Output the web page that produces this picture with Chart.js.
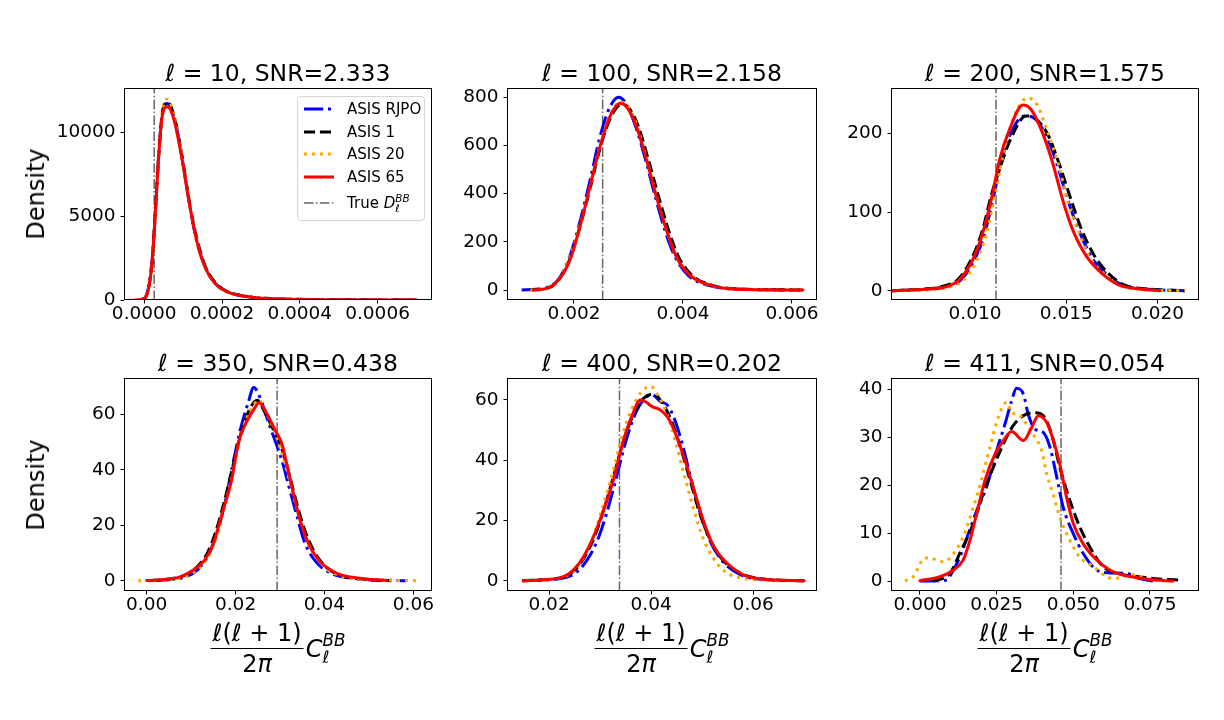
<!DOCTYPE html>
<html>
<head>
<meta charset="utf-8">
<script src="https://cdn.jsdelivr.net/npm/chart.js@4.4.0/dist/chart.umd.min.js"></script>
<style>
  body { margin: 0; background: #fff; }
  #fig { position: relative; width: 1224px; height: 720px; overflow: hidden;
         font-family: 'DejaVu Sans', sans-serif; color: #000; }
  canvas { position: absolute; }
  .title { position: absolute; font-size: 23.5px; line-height: 1; white-space: nowrap;
           transform: translate(-50%, -50%); z-index: 3; }
  .ylab { position: absolute; font-size: 24px; line-height: 1; white-space: nowrap;
          transform: translate(-50%, -50%) rotate(-90deg); }
  .xlab { position: absolute; display: flex; align-items: center; font-size: 24px;
          white-space: nowrap; transform: translateX(-50%); }
  .frac { display: flex; flex-direction: column; align-items: center; }
  .num { line-height: 30px; border-bottom: 1.3px solid #000; padding: 0 2px; }
  .den { line-height: 30px; }
  .ss { display: inline-flex; flex-direction: column; font-size: 0.7em; line-height: 1;
        vertical-align: middle; font-style: italic; }
  #legend { position: absolute; left: 297px; top: 96px; width: 128px; height: 125px;
            box-sizing: border-box; border: 1px solid #d6d6d6; border-radius: 4px;
            background: rgba(255,255,255,0.85); font-size: 15px; z-index: 5; }
  .lrow { position: absolute; left: 5px; height: 20px; display: flex; align-items: center;
          white-space: nowrap; }
  .lrow svg { margin-right: 12px; }
</style>
</head>
<body>
<div id="fig"></div>
<script>
// ---- data ----
const ells = [10, 100, 200, 350, 400, 411];
const snrs = ['2.333', '2.158', '1.575', '0.438', '0.202', '0.054'];
const trueValues = [0.0000257, 0.002526, 0.01115, 0.02935, 0.0338, 0.046];

const seriesNames = ['ASIS RJPO', 'ASIS 1', 'ASIS 20', 'ASIS 65'];

// l = 10
const l10Rjpo = [[-0.00001,0],[0.000003,150],[0.00002,2300],[0.000029,5300],[0.000037,8600],[0.000046,11000],[0.000058,11700],[0.000067,11550],[0.00008,10600],[0.000097,8500],[0.000118,5500],[0.000135,3500],[0.000157,1950],[0.000183,980],[0.000215,480],[0.00027,190],[0.00033,80],[0.00046,25],[0.0007,0]];
const l10Asis1 = [[-0.000012,0],[0.000002,130],[0.00002,2200],[0.000028,5100],[0.000037,8500],[0.000046,11000],[0.000059,11750],[0.000068,11550],[0.000081,10550],[0.000098,8450],[0.000119,5450],[0.000137,3500],[0.000158,1950],[0.000184,1000],[0.000214,500],[0.000268,200],[0.00033,85],[0.00046,25],[0.0007,0]];
const l10Asis20 = [[-0.000015,0],[0.000002,120],[0.00002,2150],[0.000028,5000],[0.000037,8500],[0.000046,11100],[0.000059,11950],[0.000068,11650],[0.000081,10500],[0.000098,8400],[0.000119,5450],[0.000136,3450],[0.000157,1900],[0.000183,950],[0.000214,470],[0.00027,190],[0.00033,80],[0.00046,20],[0.0007,0]];
const l10Asis65 = [[-0.000024,0],[0.0000018,100],[0.000019,1980],[0.0000275,4760],[0.000036,8140],[0.0000447,10710],[0.0000576,11500],[0.000066,11400],[0.0000789,10520],[0.0000961,8530],[0.0001175,5550],[0.0001347,3570],[0.000156,1980],[0.0001818,990],[0.000212,500],[0.000263,200],[0.000323,80],[0.000452,20],[0.0007,0]];

// l = 100
const l100Rjpo = [[0.00104,0],[0.0013,3],[0.0015,10],[0.0017,40],[0.0019,125],[0.0021,275],[0.0023,460],[0.00247,630],[0.00265,755],[0.00282,800],[0.00295,775],[0.00313,680],[0.00332,535],[0.0035,380],[0.00368,240],[0.00386,135],[0.0041,60],[0.00445,20],[0.005,4],[0.0058,1],[0.0062,0]];
const l100Asis1 = [[0.0012,0],[0.0015,6],[0.0017,36],[0.0019,115],[0.0021,255],[0.0023,425],[0.00248,590],[0.00267,715],[0.00287,770],[0.003,758],[0.00318,680],[0.00336,545],[0.00355,390],[0.00373,252],[0.00391,142],[0.00415,64],[0.0045,22],[0.005,4],[0.0062,0]];
const l100Asis20 = [[0.0012,0],[0.0015,6],[0.0017,38],[0.0019,120],[0.0021,260],[0.0023,430],[0.00247,595],[0.00265,720],[0.00285,780],[0.00298,765],[0.00316,680],[0.00334,540],[0.00352,385],[0.0037,246],[0.00388,136],[0.00413,62],[0.0045,20],[0.005,3],[0.0062,0]];
const l100Asis65 = [[0.001255,0],[0.0015,7],[0.001713,41],[0.001927,125],[0.00211,263],[0.002293,429],[0.002476,595],[0.002659,720],[0.002842,775],[0.002964,761],[0.003147,678],[0.00333,540],[0.003513,387],[0.003696,249],[0.003879,138],[0.004123,62],[0.004489,21],[0.004977,3],[0.0062,0]];

// l = 200
const l200Rjpo = [[0.0055,0],[0.0073,2],[0.0084,5],[0.0092,13],[0.0099,36],[0.0105,70],[0.011,118],[0.0114,160],[0.0119,197],[0.0127,222],[0.0132,220],[0.0139,197],[0.0145,160],[0.0151,114],[0.0157,76],[0.0164,42],[0.0172,21],[0.0181,7],[0.0195,2],[0.0215,0]];
const l200Asis1 = [[0.0055,0],[0.0072,2],[0.0083,6],[0.0091,15],[0.0098,40],[0.0104,76],[0.0109,122],[0.0114,158],[0.0119,190],[0.0128,222],[0.0133,219],[0.014,198],[0.0146,162],[0.0152,120],[0.0158,80],[0.0165,46],[0.0173,22],[0.0182,7],[0.0196,2],[0.0215,0]];
const l200Asis20 = [[0.006,0],[0.0075,1],[0.0085,4],[0.0093,12],[0.01,34],[0.0106,70],[0.0111,122],[0.0115,168],[0.012,213],[0.0129,245],[0.0134,236],[0.014,200],[0.0146,158],[0.0151,112],[0.0157,74],[0.0163,42],[0.0171,21],[0.018,6],[0.0195,1],[0.0215,0]];
const l200Asis65 = [[0.00547,0],[0.00731,2],[0.00841,5],[0.00914,14],[0.00987,39],[0.01042,73],[0.01097,124],[0.01134,166],[0.01188,204],[0.01262,236],[0.01308,230],[0.01371,200],[0.01426,162],[0.01481,115],[0.01536,77],[0.0161,44],[0.017,21],[0.0179,7],[0.0191,2],[0.02013,0]];

// l = 350
const l350Rjpo = [[0.002,0],[0.006,0.5],[0.009,1.5],[0.0115,4],[0.014,9.5],[0.0162,19],[0.018,31],[0.0195,43],[0.021,54],[0.0228,64],[0.0241,69.7],[0.0255,66],[0.0272,58],[0.029,50],[0.0305,43],[0.032,34],[0.0337,24],[0.0355,14],[0.038,7],[0.0418,2.5],[0.047,0.8],[0.0585,0]];
const l350Asis1 = [[0.0005,0],[0.005,0.6],[0.008,1.6],[0.011,4.5],[0.0135,9.5],[0.0155,17.5],[0.0177,30],[0.0195,42],[0.0212,53],[0.0232,62],[0.0249,65.1],[0.0265,61],[0.0285,54.5],[0.0302,48.5],[0.0318,40],[0.0335,29.5],[0.0352,20],[0.0372,12],[0.04,5.5],[0.0435,2],[0.049,0.5],[0.055,0]];
const l350Asis20 = [[-0.0019,0],[0.004,0.3],[0.008,1.2],[0.0115,4],[0.014,9],[0.016,17],[0.0182,31],[0.0198,42],[0.0215,54],[0.0235,62],[0.0253,65],[0.0268,61],[0.0287,54],[0.0302,47],[0.0318,38],[0.0334,28],[0.0352,18.5],[0.0372,11],[0.04,5],[0.0435,1.8],[0.05,0.5],[0.0607,0]];
const l350Asis65 = [[0.0,0.1],[0.0045,0.5],[0.0075,1.4],[0.0105,3.9],[0.0131,7.5],[0.015,13.5],[0.0172,25.5],[0.0191,36.3],[0.0206,49.5],[0.0221,56.1],[0.024,61.5],[0.0253,64.2],[0.027,60.4],[0.0289,54.3],[0.0304,49.5],[0.0315,42.3],[0.033,31.5],[0.0345,21.9],[0.0364,13.5],[0.039,6.9],[0.0428,2.7],[0.0475,1.0],[0.054,0.1]];

// l = 400
const l400Rjpo = [[0.0147,0],[0.02,0.3],[0.0235,1.2],[0.0255,3],[0.0275,7],[0.0295,13.5],[0.0312,22],[0.033,33],[0.035,46],[0.0368,55],[0.0385,60],[0.0402,61.7],[0.0418,59.5],[0.0432,58.3],[0.0445,54],[0.046,46],[0.0478,34],[0.0497,22],[0.0516,13],[0.054,6.5],[0.0575,2],[0.062,0.4],[0.07,0]];
const l400Asis1 = [[0.0148,0],[0.02,0.5],[0.023,1.4],[0.025,3.5],[0.027,8],[0.029,15],[0.0308,24],[0.0326,34.5],[0.0345,46],[0.0365,55],[0.0385,60.5],[0.0405,62],[0.0422,59],[0.044,53],[0.0458,44],[0.0477,33],[0.0496,22],[0.0516,13.5],[0.054,7],[0.0575,2.5],[0.062,0.6],[0.07,0]];
const l400Asis20 = [[0.0155,0],[0.02,0.4],[0.023,1.4],[0.025,3.6],[0.027,8.5],[0.0288,15.5],[0.0306,25],[0.0325,36],[0.0343,48],[0.0362,57],[0.038,62.5],[0.0399,64.5],[0.0415,61],[0.0432,55],[0.0448,46],[0.0465,35],[0.0483,24],[0.0502,14],[0.0522,7.5],[0.0545,3],[0.058,0.8],[0.065,0]];
const l400Asis65 = [[0.01495,0],[0.01955,0.4],[0.0228,1.3],[0.0248,3.6],[0.02675,8],[0.0287,14.6],[0.0307,23.5],[0.0326,33.4],[0.0346,46.7],[0.0363,55],[0.0379,60],[0.0389,59.4],[0.0402,57.8],[0.0418,56.7],[0.0432,54.4],[0.0445,50],[0.0464,41.2],[0.0484,30.1],[0.0504,19.1],[0.0523,11.3],[0.0549,5.8],[0.0582,1.9],[0.0621,0.5],[0.07,0]];

// l = 411
const l411Rjpo = [[0,0],[0.0033,0],[0.0087,0.2],[0.0103,1.6],[0.013,5],[0.0158,9.9],[0.0185,14.7],[0.0217,19.6],[0.025,27.2],[0.0277,32.7],[0.0299,37.6],[0.0315,40.2],[0.0337,39],[0.0353,34.8],[0.0375,31.7],[0.0402,31],[0.0424,27.9],[0.0446,21.7],[0.0467,15.4],[0.05,9.9],[0.0532,5.8],[0.0576,2.3],[0.0619,1.7],[0.0674,1.6],[0.071,0.6],[0.076,0]];
const l411Asis1 = [[0.0043,0],[0.0098,1.6],[0.013,5.8],[0.0174,12],[0.0206,18.2],[0.0239,23.7],[0.0272,28.6],[0.0304,32.4],[0.0337,34.5],[0.0375,35.1],[0.0402,34.5],[0.0429,30.7],[0.0456,23.7],[0.0489,16.8],[0.0521,11.3],[0.0554,7.1],[0.0597,3],[0.065,1.5],[0.07,1],[0.078,0.4],[0.0858,0.2]];
const l411Asis20 = [[-0.0049,0],[-0.0022,0.9],[0.0016,4.8],[0.0038,4.7],[0.0076,4],[0.0109,5.7],[0.0141,9.2],[0.0174,15.4],[0.02,21],[0.0228,27.9],[0.0255,34.1],[0.0283,37.3],[0.0299,35.1],[0.032,34.8],[0.0348,32.7],[0.0375,30],[0.0397,27.2],[0.0413,22.4],[0.0434,18.2],[0.0456,13.3],[0.0489,8.5],[0.0521,5],[0.0565,3],[0.0609,0.9],[0.0631,0.5],[0.0695,1.3],[0.074,0.5],[0.078,0]];
const l411Asis65 = [[0,0.07],[0.0065,0.9],[0.0109,2.3],[0.0141,4.4],[0.0163,8.5],[0.0185,14.1],[0.0212,21],[0.0245,26.5],[0.0272,29.3],[0.0299,31.2],[0.0337,29.3],[0.0364,32],[0.0386,34.5],[0.0413,33.1],[0.0435,29.3],[0.0456,24.4],[0.0478,17.5],[0.05,12],[0.0532,7.8],[0.0576,4.4],[0.0619,2.3],[0.066,1.3],[0.07,0.8],[0.075,0.3],[0.0826,0]];

// tick labels per panel
const xTickLabels = [
  ['0.0000', '0.0002', '0.0004', '0.0006'],
  ['0.002', '0.004', '0.006'],
  ['0.010', '0.015', '0.020'],
  ['0.00', '0.02', '0.04', '0.06'],
  ['0.02', '0.04', '0.06'],
  ['0.000', '0.025', '0.050', '0.075']
];
const yTickLabels = [
  ['0', '5000', '10000'],
  ['0', '200', '400', '600', '800'],
  ['0', '100', '200'],
  ['0', '20', '40', '60'],
  ['0', '20', '40', '60'],
  ['0', '10', '20', '30', '40']
];
// axis limits [min, max]
const xLimits = [[-0.000052, 0.00074], [0.000771, 0.006459], [0.0054, 0.02227],
                 [-0.0051, 0.0642], [0.01176, 0.0725], [-0.00945, 0.091]];
const yLimits = [[0, 12620], [-41.5, 838.6], [-11.8, 257.6],
                 [-3.7, 73.1], [-3.4, 67.3], [-2.08, 42.35]];

const panelSeries = [
  [l10Rjpo, l10Asis1, l10Asis20, l10Asis65],
  [l100Rjpo, l100Asis1, l100Asis20, l100Asis65],
  [l200Rjpo, l200Asis1, l200Asis20, l200Asis65],
  [l350Rjpo, l350Asis1, l350Asis20, l350Asis65],
  [l400Rjpo, l400Asis1, l400Asis20, l400Asis65],
  [l411Rjpo, l411Asis1, l411Asis20, l411Asis65]
];

// ---- styles & layout ----
const seriesColors = ['#0000ff', '#000000', '#ffa500', '#ff0000'];
const seriesDash = [[19.2, 4.8, 3, 4.8], [11.1, 4.8], [3, 4.95], []];
const trueColor = '#666666';
const trueDash = [9.6, 2.4, 1.5, 2.4];

const colBoxes = [[124, 432], [507, 817], [891, 1199]];
const rowBoxes = [[88, 300], [378, 591]];
const PAD_L = 90, PAD_T = 30, PAD_R = 30, PAD_B = 35;

Chart.defaults.font.family = "'DejaVu Sans', sans-serif";
Chart.defaults.font.size = 18.5;
Chart.defaults.color = '#000';

const framePlugin = {
  id: 'frame',
  afterDraw(chart) {
    const { ctx, chartArea: a } = chart;
    ctx.save();
    ctx.strokeStyle = '#000';
    ctx.lineWidth = 1;
    ctx.strokeRect(a.left + 0.5, a.top + 0.5, a.right - a.left - 1, a.bottom - a.top - 1);
    ctx.restore();
  }
};

const fig = document.getElementById('fig');

function stacked(sup, sub) {
  return `<span class="ss"><span>${sup}</span><span>${sub}</span></span>`;
}

panelSeries.forEach((series, p) => {
  const col = p % 3, row = Math.floor(p / 3);
  const [bl, br] = colBoxes[col];
  const [bt, bb] = rowBoxes[row];
  const w = br - bl + PAD_L + PAD_R;
  const h = bb - bt + PAD_T + PAD_B;

  const canvas = document.createElement('canvas');
  canvas.width = w; canvas.height = h;
  canvas.style.left = (bl - PAD_L) + 'px';
  canvas.style.top = (bt - PAD_T) + 'px';
  canvas.style.width = w + 'px';
  canvas.style.height = h + 'px';
  fig.appendChild(canvas);

  const xt = xTickLabels[p].map(Number);
  const yt = yTickLabels[p].map(Number);
  const [ymin, ymax] = yLimits[p];

  const datasets = series.map((pts, k) => ({
    label: seriesNames[k],
    data: pts.map(([x, y]) => ({ x, y })),
    showLine: true,
    borderColor: seriesColors[k],
    borderWidth: 3,
    borderDash: seriesDash[k],
    borderCapStyle: k === 3 ? 'round' : 'butt',
    pointRadius: 0,
    cubicInterpolationMode: 'monotone',
    fill: false,
    order: 3 - k
  }));
  datasets.push({
    label: 'True',
    data: [{ x: trueValues[p], y: ymin }, { x: trueValues[p], y: ymax }],
    showLine: true,
    borderColor: trueColor,
    borderWidth: 1.5,
    borderDash: trueDash,
    pointRadius: 0,
    order: 4
  });

  new Chart(canvas, {
    type: 'scatter',
    data: { datasets },
    plugins: [framePlugin],
    options: {
      responsive: false,
      animation: false,
      devicePixelRatio: 1,
      layout: { padding: { left: 0, top: PAD_T, right: PAD_R, bottom: 0 } },
      plugins: { legend: { display: false }, tooltip: { enabled: false } },
      scales: {
        x: {
          type: 'linear', min: xLimits[p][0], max: xLimits[p][1],
          afterFit: s => { s.height = PAD_B; },
          afterBuildTicks: s => { s.ticks = xt.map(v => ({ value: v })); },
          ticks: { callback: (v, i) => xTickLabels[p][i], maxRotation: 0, autoSkip: false, padding: 0 },
          grid: { drawOnChartArea: false, drawTicks: true, tickLength: 3.5, color: '#000' },
          border: { display: false }
        },
        y: {
          type: 'linear', min: ymin, max: ymax,
          afterFit: s => { s.width = PAD_L; },
          afterBuildTicks: s => { s.ticks = yt.map(v => ({ value: v })); },
          ticks: { callback: (v, i) => yTickLabels[p][i], autoSkip: false, padding: 5 },
          grid: { drawOnChartArea: false, drawTicks: true, tickLength: 3.5, color: '#000' },
          border: { display: false }
        }
      }
    }
  });

  // title
  const t = document.createElement('div');
  t.className = 'title';
  t.style.left = ((bl + br) / 2) + 'px';
  t.style.top = (row === 0 ? 74 : 364) + 'px';
  t.innerHTML = `<i>ℓ</i> = ${ells[p]}, SNR=${snrs[p]}`;
  fig.appendChild(t);

  // y label on first column
  if (col === 0) {
    const yl = document.createElement('div');
    yl.className = 'ylab';
    yl.style.left = '36px';
    yl.style.top = ((bt + bb) / 2) + 'px';
    yl.textContent = 'Density';
    fig.appendChild(yl);
  }

  // x label on bottom row
  if (row === 1) {
    const xl = document.createElement('div');
    xl.className = 'xlab';
    xl.style.left = ((bl + br) / 2) + 'px';
    xl.style.top = '618px';
    xl.innerHTML = `<span class="frac"><span class="num"><i>ℓ</i>(<i>ℓ</i> + 1)</span>` +
      `<span class="den">2<i>π</i></span></span><i style="margin-left:2px">C</i>${stacked('BB', 'ℓ')}`;
    fig.appendChild(xl);
  }
});

// legend (panel 1)
const legendLabels = seriesNames.concat([`True <i>D</i>${stacked('BB', 'ℓ')}`]);
const legendColors = seriesColors.concat([trueColor]);
const legendDash = seriesDash.concat([trueDash]);
const legendWidths = [3, 3, 3, 3, 1.5];
const legendRowTops = [2, 25, 47, 70, 96];
const legend = document.createElement('div');
legend.id = 'legend';
legendLabels.forEach((lab, i) => {
  const r = document.createElement('div');
  r.className = 'lrow';
  r.style.top = legendRowTops[i] + 'px';
  const dash = legendDash[i].length ? `stroke-dasharray="${legendDash[i].join(' ')}"` : '';
  r.innerHTML = `<svg width="32" height="8"><line x1="1" y1="4" x2="31" y2="4" stroke="${legendColors[i]}" ` +
    `stroke-width="${legendWidths[i]}" ${dash}/></svg><span>${lab}</span>`;
  legend.appendChild(r);
});
fig.appendChild(legend);
</script>
</body>
</html>
